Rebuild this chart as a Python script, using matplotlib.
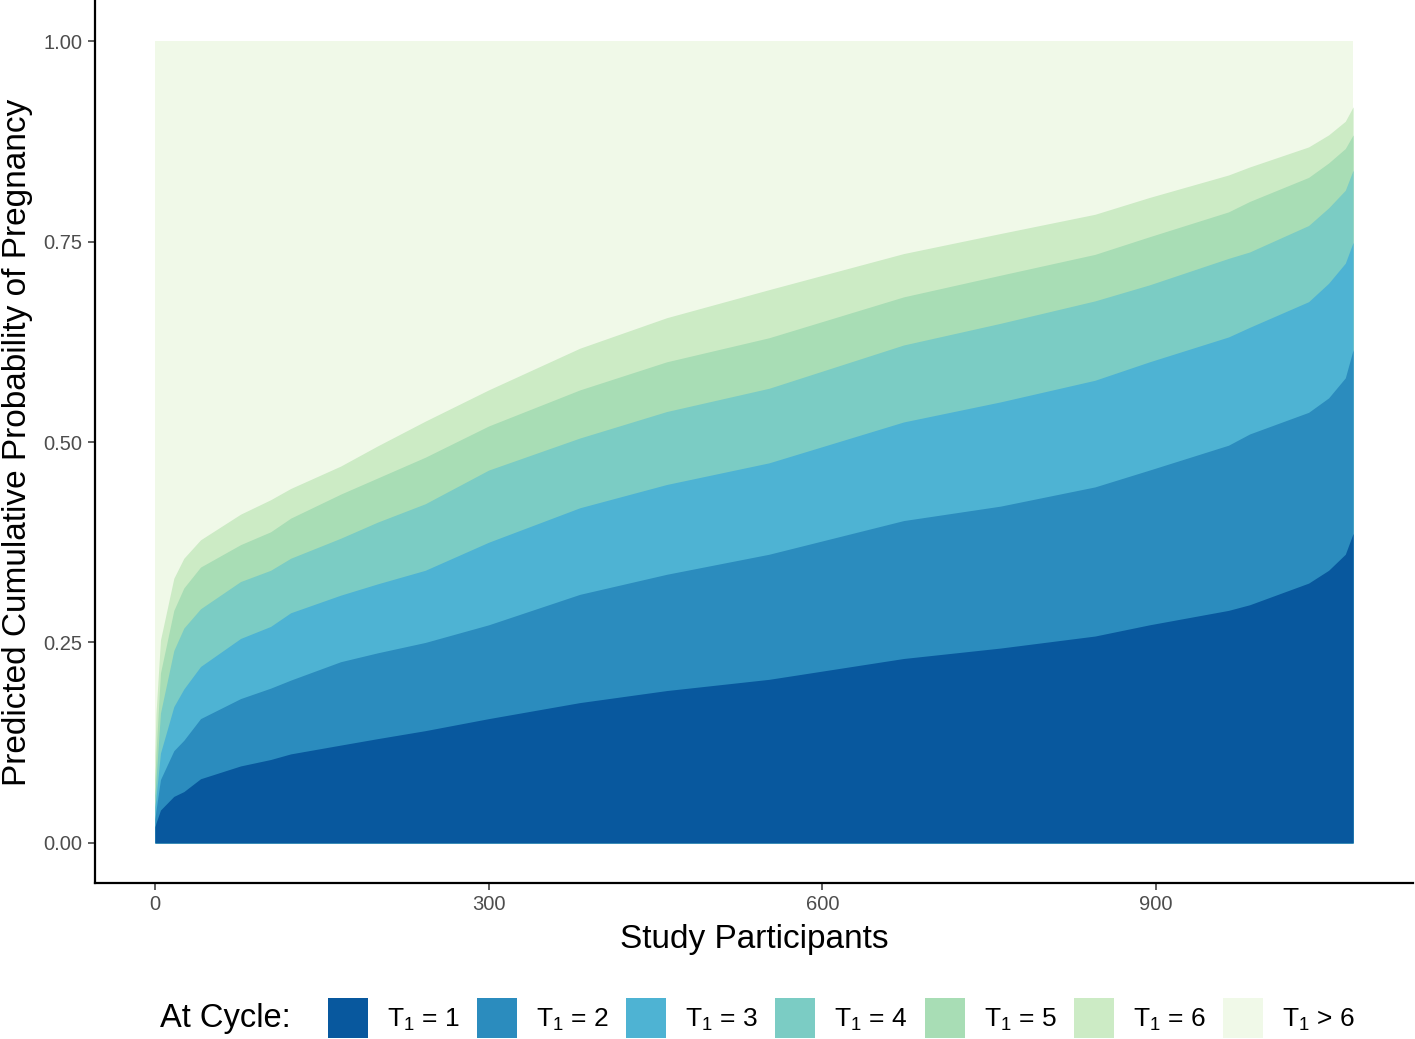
import numpy as np
import matplotlib
matplotlib.use("Agg")
import matplotlib.pyplot as plt
from matplotlib.patches import Patch

plt.rcParams['font.family'] = ['Liberation Sans', 'DejaVu Sans']
plt.rcParams['mathtext.default'] = 'regular'

# participants (sorted by predicted probability) and cumulative probability
# at the top of each cycle band
participants = [0, 1, 5, 17, 26, 41, 77, 104, 122, 167, 200, 243, 300, 382,
                460, 552, 673, 760, 845, 894, 965, 984, 1037, 1055, 1070, 1077]
cum_t1 = [0.02, 0.025, 0.041, 0.058, 0.064, 0.080, 0.096, 0.104, 0.111, 0.122,
          0.130, 0.140, 0.155, 0.175, 0.190, 0.204, 0.230, 0.243, 0.258, 0.272,
          0.290, 0.297, 0.324, 0.340, 0.360, 0.386]
cum_t2 = [0.03, 0.041, 0.079, 0.115, 0.128, 0.155, 0.180, 0.193, 0.203, 0.226,
          0.237, 0.250, 0.272, 0.310, 0.335, 0.360, 0.402, 0.420, 0.444, 0.465,
          0.496, 0.510, 0.537, 0.555, 0.580, 0.615]
cum_t3 = [0.045, 0.057, 0.112, 0.170, 0.192, 0.220, 0.255, 0.270, 0.287, 0.309,
          0.323, 0.340, 0.375, 0.418, 0.447, 0.474, 0.525, 0.550, 0.577, 0.600,
          0.631, 0.643, 0.675, 0.698, 0.723, 0.749]
cum_t4 = [0.06, 0.079, 0.162, 0.240, 0.268, 0.292, 0.326, 0.340, 0.355, 0.380,
          0.400, 0.423, 0.465, 0.505, 0.538, 0.567, 0.621, 0.648, 0.676, 0.696,
          0.729, 0.737, 0.770, 0.792, 0.814, 0.839]
cum_t5 = [0.08, 0.112, 0.212, 0.290, 0.318, 0.344, 0.372, 0.388, 0.405, 0.435,
          0.455, 0.481, 0.520, 0.565, 0.600, 0.630, 0.681, 0.708, 0.734, 0.756,
          0.787, 0.800, 0.830, 0.848, 0.866, 0.883]
cum_t6 = [0.11, 0.162, 0.253, 0.330, 0.355, 0.378, 0.410, 0.428, 0.442, 0.470,
          0.495, 0.526, 0.565, 0.617, 0.655, 0.690, 0.735, 0.760, 0.784, 0.805,
          0.833, 0.843, 0.868, 0.883, 0.900, 0.918]
cum_all = [1.0] * len(participants)

labels = ['T$_1$ = 1', 'T$_1$ = 2', 'T$_1$ = 3', 'T$_1$ = 4',
          'T$_1$ = 5', 'T$_1$ = 6', 'T$_1$ > 6']
colors = ['#08589e', '#2b8cbe', '#4eb3d3', '#7bccc4', '#a8ddb5', '#ccebc5', '#f0f9e8']

fig = plt.figure(figsize=(14.15, 10.39), dpi=100)
ax = fig.add_axes([95 / 1415, 1 - 883 / 1039, 1318 / 1415, 882 / 1039])

# draw from the top band down so the bands overlap without seams
tops = [cum_t1, cum_t2, cum_t3, cum_t4, cum_t5, cum_t6, cum_all]
for top, col in reversed(list(zip(tops, colors))):
    ax.fill_between(participants, 0, top, color=col, linewidth=0)

ax.set_xlim(-53.85, 1130.85)
ax.set_ylim(-0.05, 1.05)
ax.set_xticks([0, 300, 600, 900])
ax.set_yticks([0, 0.25, 0.5, 0.75, 1.0])
ax.set_yticklabels(['0.00', '0.25', '0.50', '0.75', '1.00'])

for s in ['top', 'right']:
    ax.spines[s].set_visible(False)
for s in ['left', 'bottom']:
    ax.spines[s].set_linewidth(1.6)
ax.tick_params(length=5, width=1.1, color='#333333', labelcolor='#4d4d4d',
               labelsize=14.5, pad=4)

ax.set_xlabel('Study Participants', fontsize=24)
ax.set_ylabel('Predicted Cumulative Probability of Pregnancy', fontsize=24)
ax.xaxis.set_label_coords(0.5, -0.046)
ax.yaxis.set_label_coords(-0.047, 0.5)

# legend along the bottom
fig.text(160 / 1415, 1 - 1018 / 1039, 'At Cycle:', fontsize=23.5, va='center', ha='left')
handles = [Patch(facecolor=c, edgecolor='none') for c in colors]
fig.legend(handles, labels, loc='center left', bbox_to_anchor=(328 / 1415, 1 - 1018 / 1039),
           ncol=7, frameon=False, fontsize=19, handlelength=1.52, handleheight=1.95,
           handletextpad=0.72, columnspacing=0.65, borderpad=0, borderaxespad=0)

fig.savefig('out.png', dpi=100)
